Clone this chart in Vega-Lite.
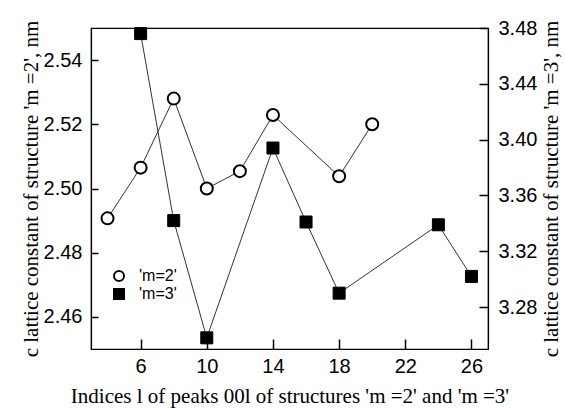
{
  "$schema": "https://vega.github.io/schema/vega-lite/v6.json",
  "width": 397,
  "height": 321,
  "autosize": {"type": "none"},
  "padding": {"left": 91, "top": 28, "right": 77, "bottom": 59},
  "background": "white",
  "config": {
    "view": {"stroke": "black", "strokeWidth": 1.2},
    "axis": {
      "grid": false,
      "domainColor": "black",
      "domainWidth": 1.2,
      "tickColor": "black",
      "tickWidth": 1.5,
      "labelFont": "Liberation Sans",
      "labelFontSize": 20,
      "labelColor": "black",
      "titleFont": "Liberation Serif",
      "titleFontSize": 21,
      "titleFontWeight": "normal",
      "titleColor": "black"
    },
    "legend": {
      "orient": "none", "legendX": 20, "legendY": 240, "title": null,
      "labelFont": "Liberation Sans", "labelFontSize": 16, "labelColor": "black",
      "symbolSize": 100, "symbolStrokeWidth": 2,
      "rowPadding": 0, "labelOffset": 12
    }
  },
  "data": {
    "values": [
      {"l": 4, "c": 2.4907, "series": "'m=2'"},
      {"l": 6, "c": 2.5065, "series": "'m=2'"},
      {"l": 8, "c": 2.528, "series": "'m=2'"},
      {"l": 10, "c": 2.5, "series": "'m=2'"},
      {"l": 12, "c": 2.5054, "series": "'m=2'"},
      {"l": 14, "c": 2.5229, "series": "'m=2'"},
      {"l": 18, "c": 2.5038, "series": "'m=2'"},
      {"l": 20, "c": 2.52, "series": "'m=2'"},
      {"l": 6, "c": 3.476, "series": "'m=3'"},
      {"l": 8, "c": 3.342, "series": "'m=3'"},
      {"l": 10, "c": 3.258, "series": "'m=3'"},
      {"l": 14, "c": 3.394, "series": "'m=3'"},
      {"l": 16, "c": 3.341, "series": "'m=3'"},
      {"l": 18, "c": 3.29, "series": "'m=3'"},
      {"l": 24, "c": 3.339, "series": "'m=3'"},
      {"l": 26, "c": 3.302, "series": "'m=3'"}
    ]
  },
  "layer": [
    {
      "transform": [{"filter": "datum.series === \"'m=2'\""}],
      "encoding": {
        "x": {
          "field": "l",
          "type": "quantitative",
          "scale": {"domain": [3, 27], "nice": false, "zero": false},
          "axis": {
            "orient": "bottom",
            "values": [6, 10, 14, 18, 22, 26],
            "ticks": false,
            "labelPadding": 7,
            "title": "Indices l of peaks 00l of structures 'm =2' and 'm =3'",
            "titlePadding": 9
          }
        }
      },
      "layer": [
        {
          "mark": {"type": "line", "color": "#333333", "strokeWidth": 1},
          "encoding": {
            "y": {
              "field": "c",
              "type": "quantitative",
              "scale": {"domain": [2.45, 2.55], "nice": false, "zero": false},
              "axis": {
                "orient": "left",
                "values": [2.46, 2.48, 2.5, 2.52, 2.54],
                "labels": false,
                "domain": false,
                "ticks": true,
                "tickSize": 7,
                "offset": -7,
                "title": null
              }
            }
          }
        },
        {
          "mark": {"type": "point", "filled": true, "strokeWidth": 2, "opacity": 1, "fillOpacity": 1, "strokeOpacity": 1},
          "encoding": {
            "y": {
              "field": "c",
              "type": "quantitative",
              "scale": {"domain": [2.45, 2.55], "nice": false, "zero": false},
              "axis": {
                "orient": "left",
                "values": [2.46, 2.48, 2.5, 2.52, 2.54],
                "format": ".2f",
                "ticks": false,
                "labelPadding": 9,
                "title": "c lattice constant of structure 'm =2', nm",
                "titlePadding": 2
              }
            },
            "shape": {"field": "series", "type": "nominal", "scale": {"domain": ["'m=2'", "'m=3'"], "range": ["circle", "square"]}},
            "fill": {"field": "series", "type": "nominal", "scale": {"domain": ["'m=2'", "'m=3'"], "range": ["white", "black"]}},
            "stroke": {"field": "series", "type": "nominal", "scale": {"domain": ["'m=2'", "'m=3'"], "range": ["black", "black"]}},
            "size": {"value": 144}
          }
        }
      ],
      "resolve": {"axis": {"y": "independent"}}
    },
    {
      "transform": [{"filter": "datum.series === \"'m=3'\""}],
      "encoding": {
        "x": {
          "field": "l",
          "type": "quantitative",
          "scale": {"domain": [3, 27], "nice": false, "zero": false},
          "axis": {
            "orient": "bottom",
            "values": [6, 10, 14, 18, 22, 26],
            "labels": false,
            "domain": false,
            "ticks": true,
            "tickSize": 10,
            "offset": -10,
            "title": null
          }
        }
      },
      "layer": [
        {
          "mark": {"type": "line", "color": "#333333", "strokeWidth": 1},
          "encoding": {
            "y": {
              "field": "c",
              "type": "quantitative",
              "scale": {"domain": [3.25, 3.48], "nice": false, "zero": false},
              "axis": {
                "orient": "right",
                "values": [3.28, 3.32, 3.36, 3.4, 3.44, 3.48],
                "labels": false,
                "domain": false,
                "ticks": true,
                "tickSize": 9,
                "offset": -9,
                "title": null
              }
            }
          }
        },
        {
          "mark": {"type": "point", "filled": true, "strokeWidth": 1, "opacity": 1, "fillOpacity": 1, "strokeOpacity": 1},
          "encoding": {
            "y": {
              "field": "c",
              "type": "quantitative",
              "scale": {"domain": [3.25, 3.48], "nice": false, "zero": false},
              "axis": {
                "orient": "right",
                "values": [3.28, 3.32, 3.36, 3.4, 3.44, 3.48],
                "format": ".2f",
                "ticks": false,
                "labelPadding": 10,
                "title": "c lattice constant of structure 'm =3', nm",
                "titleAngle": 270,
                "titleBaseline": "top",
                "titlePadding": 4
              }
            },
            "shape": {"field": "series", "type": "nominal", "scale": {"domain": ["'m=2'", "'m=3'"], "range": ["circle", "square"]}},
            "fill": {"field": "series", "type": "nominal", "scale": {"domain": ["'m=2'", "'m=3'"], "range": ["white", "black"]}},
            "stroke": {"field": "series", "type": "nominal", "scale": {"domain": ["'m=2'", "'m=3'"], "range": ["black", "black"]}},
            "size": {"value": 144}
          }
        }
      ],
      "resolve": {"axis": {"y": "independent"}}
    }
  ],
  "resolve": {"scale": {"y": "independent"}, "axis": {"x": "independent"}}
}
